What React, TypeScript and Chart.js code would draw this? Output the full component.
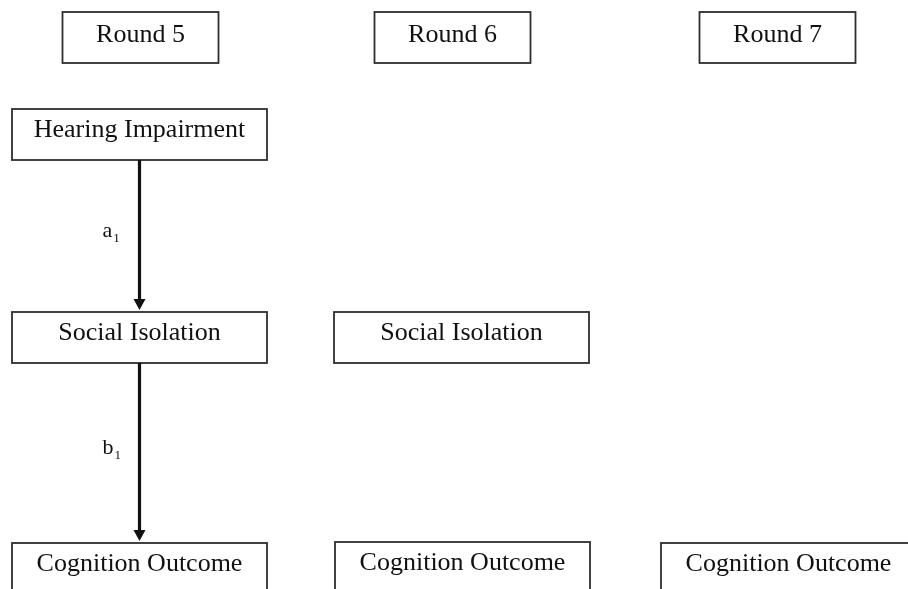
import React, { useEffect, useRef } from "react";
import { Chart, registerables } from "chart.js";

Chart.register(...registerables);

// Column header boxes ("Round" labels)
const roundLabels = ["Round 5", "Round 6", "Round 7"];
const roundCenterX = [140.5, 452.5, 777.5];
const roundTopY = [12, 12, 12];

// Construct boxes
const nodeLabels = [
  "Hearing Impairment",
  "Social Isolation",
  "Social Isolation",
  "Cognition Outcome",
  "Cognition Outcome",
  "Cognition Outcome",
];
const nodeCenterX = [139.5, 139.5, 461.5, 139.5, 462.5, 788.5];
const nodeTopY = [109, 312, 312, 543, 542, 543];

// Paths (arrows) between construct boxes
const pathFrom = [0, 1];
const pathTo = [1, 3];
const pathLetter = ["a", "b"];
const pathSub = ["1", "1"];

const ROUND_W = 156;
const ROUND_H = 51;
const NODE_W = 255;
const NODE_H = 51;
const INK = "#111111";
const BORDER = "#2e2e2e";
const FONT = '"Liberation Serif", "Times New Roman", serif';

function drawText(ctx: CanvasRenderingContext2D, text: string, cx: number, baseline: number, size: number) {
  ctx.save();
  ctx.translate(cx, baseline);
  ctx.font = `${size}px ${FONT}`;
  ctx.fillStyle = INK;
  ctx.textAlign = "center";
  ctx.textBaseline = "alphabetic";
  ctx.fillText(text, 0, 0);
  ctx.restore();
}

const diagramPlugin = {
  id: "diagram",
  beforeDraw(chart: any) {
    const { ctx, width, height } = chart;
    ctx.save();
    ctx.fillStyle = "#ffffff";
    ctx.fillRect(0, 0, width, height);
    ctx.restore();
  },
  afterDatasetsDraw(chart: any) {
    const { ctx } = chart;
    const xs = chart.scales.x;
    const ys = chart.scales.y;
    const px = (v: number) => xs.getPixelForValue(v);
    const py = (v: number) => ys.getPixelForValue(v);

    const box = (cx: number, top: number, w: number, h: number) => {
      const x0 = px(cx - w / 2);
      const x1 = px(cx + w / 2);
      const y0 = py(top);
      const y1 = py(top + h);
      ctx.save();
      ctx.strokeStyle = BORDER;
      ctx.lineWidth = 1.8;
      ctx.strokeRect(x0, y0, x1 - x0, y1 - y0);
      ctx.restore();
    };

    // Round headers
    roundLabels.forEach((label, i) => {
      box(roundCenterX[i], roundTopY[i], ROUND_W, ROUND_H);
      drawText(ctx, label, px(roundCenterX[i]), py(roundTopY[i] + 30), 26);
    });

    // Construct nodes
    nodeLabels.forEach((label, i) => {
      box(nodeCenterX[i], nodeTopY[i], NODE_W, NODE_H);
      drawText(ctx, label, px(nodeCenterX[i]), py(nodeTopY[i] + 28), 26);
    });

    // Arrows
    pathFrom.forEach((from, i) => {
      const to = pathTo[i];
      const ax = px(nodeCenterX[from]);
      const yStart = py(nodeTopY[from] + NODE_H);
      const yTip = py(nodeTopY[to]) - 2;
      const headH = 11;
      const headW = 12;
      ctx.save();
      ctx.strokeStyle = "#111111";
      ctx.fillStyle = "#111111";
      ctx.lineWidth = 3.2;
      ctx.beginPath();
      ctx.moveTo(ax, yStart);
      ctx.lineTo(ax, yTip - headH + 1);
      ctx.stroke();
      ctx.beginPath();
      ctx.moveTo(ax - headW / 2, yTip - headH);
      ctx.lineTo(ax + headW / 2, yTip - headH);
      ctx.lineTo(ax, yTip);
      ctx.closePath();
      ctx.fill();

      // path label with subscript
      const mid = (yStart + yTip) / 2 + 2;
      const lx = ax - 37;
      ctx.font = `22px ${FONT}`;
      ctx.fillStyle = INK;
      ctx.textAlign = "left";
      ctx.textBaseline = "alphabetic";
      ctx.fillText(pathLetter[i], lx, mid);
      const lw = ctx.measureText(pathLetter[i]).width;
      ctx.font = `13px ${FONT}`;
      ctx.fillText(pathSub[i], lx + lw + 1, mid + 5);
      ctx.restore();
    });
  },
};

export default function App() {
  const ref = useRef<HTMLCanvasElement>(null);

  useEffect(() => {
    document.body.style.margin = "0";
    if (!ref.current) return;
    const points = nodeCenterX.map((x, i) => ({ x, y: nodeTopY[i] + NODE_H / 2 }));
    const chart = new Chart(ref.current, {
      type: "scatter",
      data: {
        datasets: [
          {
            label: "nodes",
            data: points,
            pointRadius: 0,
            pointHoverRadius: 0,
          },
        ],
      },
      options: {
        animation: false,
        responsive: false,
        devicePixelRatio: 1,
        events: [],
        layout: { padding: 0 },
        plugins: {
          legend: { display: false },
          tooltip: { enabled: false },
        },
        scales: {
          x: { type: "linear", min: 0, max: 908, display: false },
          y: { type: "linear", min: 0, max: 589, reverse: true, display: false },
        },
      },
      plugins: [diagramPlugin],
    });
    return () => chart.destroy();
  }, []);

  return (
    <div style={{ position: "fixed", left: 0, top: 0, width: 908, height: 589, background: "#fff" }}>
      <canvas ref={ref} width={908} height={589} style={{ display: "block" }} />
    </div>
  );
}
